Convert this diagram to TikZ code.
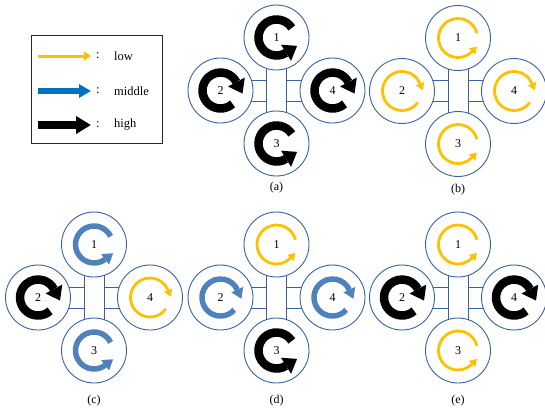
\documentclass[tikz,border=0pt]{standalone}
\usepackage{fontspec}
\setmainfont{Liberation Serif}
\usetikzlibrary{arrows.meta,calc}

\definecolor{lowc}{HTML}{FFC000}
\definecolor{midc}{HTML}{4F81BD}
\definecolor{midleg}{HTML}{0070C0}
\definecolor{rimc}{HTML}{3A62A0}

\tikzset{
  rotor/.style={circle, draw=rimc, line width=0.9pt, fill=white,
    minimum size=65pt, inner sep=0pt, font=\fontsize{12}{12}\selectfont},
  armbox/.style={rectangle, draw=rimc, line width=0.9pt, fill=white, inner sep=0pt},
  caption/.style={font=\fontsize{12}{12}\selectfont, inner sep=0pt},
  legtext/.style={font=\fontsize{12.5}{12.5}\selectfont, anchor=west, inner sep=0pt},
}

% spin arrow round a rotor node:
% #1 node, #2 colour, #3 line width, #4 radius, #5 head width, #6 head length,
% #7 start angle, #8 end angle, #9 +90 (counter-clockwise) or -90 (clockwise)
\newcommand{\spinarc}[9]{%
  \draw[draw=#2, line width=#3] (#1.center) ++(#7:#4)
    arc[start angle=#7, end angle=#8, radius=#4];
  \fill[#2] ([shift={(#8:#4+#5/2)}]#1.center)
    -- ([shift={(#8:#4-#5/2)}]#1.center)
    -- ($(#1.center)+(#8:#4)+(#8+#9:#6)$) -- cycle;}

% the three speeds, turning either way
\newcommand{\lowccw}[1]{\spinarc{#1}{lowc}{2.8pt}{19.5}{9}{7}{14}{316}{90}}
\newcommand{\lowcw}[1]{\spinarc{#1}{lowc}{2.8pt}{19.5}{9}{7}{-36}{-338}{-90}}
\newcommand{\midccw}[1]{\spinarc{#1}{midc}{5.5pt}{18.5}{13}{10}{26}{307}{90}}
\newcommand{\midcw}[1]{\spinarc{#1}{midc}{5.5pt}{18.5}{13}{10}{-42}{-335}{-90}}
\newcommand{\highccw}[1]{\spinarc{#1}{black}{8.5pt}{18}{19}{13}{32}{302}{90}}
\newcommand{\highcw}[1]{\spinarc{#1}{black}{8.5pt}{18}{19}{13}{-48}{-332}{-90}}

% quadrotor: #1 name, #2 x, #3 y, #4..#7 speed of rotors 1..4
\newcommand{\quadrotor}[7]{%
  \begin{scope}[shift={(#2,#3)}]
    \node[armbox, minimum width=112pt, minimum height=21pt] (#1arm) at (0,0) {};
    \node[armbox, minimum width=20pt, minimum height=106pt] (#1body) at (0,0) {};
    \node[rotor] (#1r1) at (0,53) {1};
    \node[rotor] (#1r2) at (-56,0) {2};
    \node[rotor] (#1r3) at (0,-53) {3};
    \node[rotor] (#1r4) at (56,0) {4};
  \end{scope}
  \csname #4ccw\endcsname{#1r1}
  \csname #5cw\endcsname{#1r2}
  \csname #6ccw\endcsname{#1r3}
  \csname #7cw\endcsname{#1r4}}

\begin{document}
\begin{tikzpicture}[x=1pt, y=1pt]
  \useasboundingbox[fill=white] (0,0) rectangle (545,-410);

  % legend
  \node[rectangle, draw=black!85, line width=1pt, minimum width=131pt,
        minimum height=108pt, inner sep=0pt] (legend) at (96.5,-89.5) {};
  \coordinate (l1a) at (38,-56);  \coordinate (l1b) at (91,-56);
  \coordinate (l2a) at (38,-91);  \coordinate (l2b) at (91,-91);
  \coordinate (l3a) at (38,-125); \coordinate (l3b) at (91,-125);
  \draw[draw=lowc, line width=3pt, -{Triangle[length=7pt,width=9pt]}] (l1a) -- (l1b);
  \draw[draw=midleg, line width=6pt, -{Triangle[length=12pt,width=13pt]}] (l2a) -- (l2b);
  \draw[draw=black, line width=8pt, -{Triangle[length=15pt,width=17pt]}] (l3a) -- (l3b);
  \node[legtext] (c1) at (96,-56) {:};
  \node[legtext] (c2) at (96,-91) {:};
  \node[legtext] (c3) at (96,-125) {:};
  \node[legtext] (t1) at (114,-56) {low};
  \node[legtext] (t2) at (114,-91) {middle};
  \node[legtext] (t3) at (114,-125) {high};

  % five flight states
  \quadrotor{qa}{276.5}{-90.5}{high}{high}{high}{high}
  \quadrotor{qb}{458}{-91}{low}{low}{low}{low}
  \quadrotor{qc}{94}{-297.5}{mid}{high}{mid}{low}
  \quadrotor{qd}{276.5}{-297.5}{low}{mid}{high}{mid}
  \quadrotor{qe}{458}{-297.5}{low}{high}{low}{high}

  \node[caption] (capa) at (276.5,-188) {(a)};
  \node[caption] (capb) at (458,-190) {(b)};
  \node[caption] (capc) at (94,-401) {(c)};
  \node[caption] (capd) at (276.5,-401) {(d)};
  \node[caption] (cape) at (458,-401) {(e)};
\end{tikzpicture}
\end{document}
